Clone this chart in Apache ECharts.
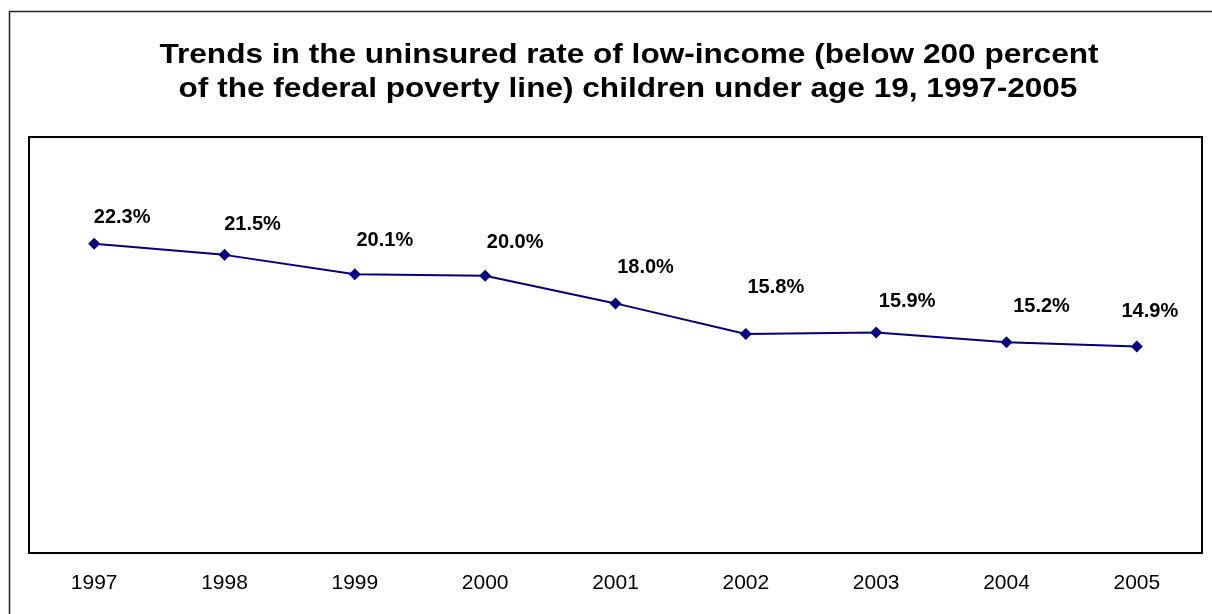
<!DOCTYPE html>
<html>
<head>
<meta charset="utf-8">
<script src="https://cdn.jsdelivr.net/npm/echarts@6/dist/echarts.min.js"></script>
<style>
html,body{margin:0;padding:0;background:#fff;}
#chart{width:1212px;height:614px;}
</style>
</head>
<body>
<div id="chart"></div>
<script>
const years = ['1997','1998','1999','2000','2001','2002','2003','2004','2005'];
const uninsuredRate = [22.3, 21.5, 20.1, 20.0, 18.0, 15.8, 15.9, 15.2, 14.9];
const titleLines = [
  'Trends in the uninsured rate of low-income (below 200 percent',
  'of the federal poverty line) children under age 19, 1997-2005'
];
// label nudges (style only, px)
const labelNudge = [[28,-5],[28,-9],[30,-13],[30,-12],[30,-15],[30,-25],[31,-10],[35,-15],[13,-14]];

const titleFont = 'bold 27px Arial, "Liberation Sans", sans-serif';
const chart = echarts.init(document.getElementById('chart'), null, {renderer:'canvas'});
chart.setOption({
  backgroundColor:'#fff',
  animation:false,
  graphic:[
    {type:'rect', shape:{x:9.5,y:11.5,width:1240,height:640}, style:{fill:'none', stroke:'#222', lineWidth:1.5}, silent:true, z:0},
    {type:'text', x:629, y:56, scaleX:1.17, silent:true,
      style:{text:titleLines[0], font:titleFont, fill:'#000', textAlign:'center', textVerticalAlign:'middle', align:'center', verticalAlign:'middle'}},
    {type:'text', x:628, y:90, scaleX:1.17, silent:true,
      style:{text:titleLines[1], font:titleFont, fill:'#000', textAlign:'center', textVerticalAlign:'middle', align:'center', verticalAlign:'middle'}}
  ],
  grid:{left:29, top:137, right:10, bottom:61, show:true, borderColor:'#000', borderWidth:2, backgroundColor:'#fff'},
  xAxis:{
    type:'category', data: years, boundaryGap:true,
    axisLine:{show:false}, axisTick:{show:false},
    axisLabel:{margin:20, color:'#000', fontFamily:'Arial, Liberation Sans', fontSize:21}
  },
  yAxis:{
    type:'value', min:0, max:30, interval:5,
    axisLine:{show:false}, axisTick:{show:false}, axisLabel:{show:false}, splitLine:{show:false}
  },
  series:[{
    type:'line',
    data: uninsuredRate.map((v,i)=>({value:v, label:{offset:labelNudge[i]}})),
    symbol:'diamond', symbolSize:12,
    lineStyle:{color:'#000080', width:2},
    itemStyle:{color:'#000080'},
    label:{show:true, position:'top', color:'#000', fontFamily:'Arial, Liberation Sans', fontWeight:'bold', fontSize:20,
      formatter: p => p.value.toFixed(1) + '%'}
  }]
});
</script>
</body>
</html>
